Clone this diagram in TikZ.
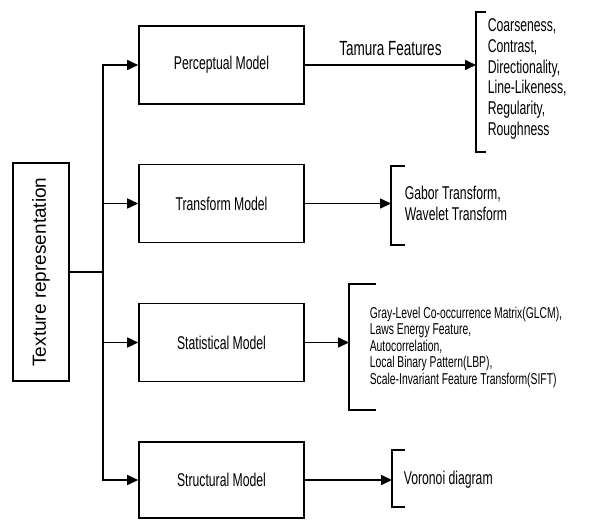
\documentclass[tikz,border=0pt]{standalone}
\usepackage{fontspec}
\setmainfont{Liberation Sans}
\newfontfamily\narrowfont{Liberation Sans}[FakeStretch=0.66]
\usetikzlibrary{arrows.meta}

\begin{document}
\begin{tikzpicture}[x=1pt,y=-1pt,line width=1.6pt,
    model/.style={draw, minimum width=165pt, minimum height=78pt,
        font=\narrowfont\fontsize{18.5}{21}\selectfont},
    featlist/.style={anchor=west, align=left, inner sep=0pt,
        font=\narrowfont\fontsize{18.5}{20.7}\selectfont},
    arr/.style={-{Triangle[length=11pt,width=10pt]}}]
    \useasboundingbox (0,0) rectangle (604,519);

    % root and the four models
    \node[draw, rotate=90, minimum width=218pt, minimum height=56pt,
        font=\fontsize{19}{22}\selectfont] (texrep) at (41,272) {Texture representation};
    \node[model] (perc)  at (221.5,65)    {Perceptual Model};
    \node[model] (trans) at (221.5,203.5) {Transform Model};
    \node[model] (stat)  at (221.5,342.5) {Statistical Model};
    \node[model, minimum height=76pt] (struc) at (221.5,480) {Structural Model};

    \coordinate (jn) at (103,272);
    \draw (texrep.south) -- (jn);
    \foreach \m in {perc,trans,stat,struc} {
        \draw[arr] (jn) |- (\m.west);
    }

    % brackets
    \coordinate (brA) at (476,12);
    \coordinate (brB) at (391,166);
    \coordinate (brC) at (349,284);
    \coordinate (brD) at (392,450);
    \foreach \bx/\bt/\bb/\bw in {476/12/152/10, 391/166/245/14, 349/284/410/27, 392/450/507/13} {
        \draw (\bx+\bw,\bt) -- (\bx,\bt) -- (\bx,\bb) -- (\bx+\bw,\bb);
    }

    \draw[arr] (perc.east) -- node[above=5pt, font=\narrowfont\fontsize{20.5}{23}\selectfont] (tamura) {Tamura Features} (perc.east -| brA);
    \draw[arr] (trans.east) -- (trans.east -| brB);
    \draw[arr] (stat.east)  -- (stat.east -| brC);
    \draw[arr] (struc.east) -- (struc.east -| brD);

    % feature lists
    \node[featlist] (percfeat) at (487,79) {Coarseness,\\Contrast,\\Directionality,\\Line-Likeness,\\Regularity,\\Roughness};
    \node[featlist] (transfeat) at (404,203.5) {Gabor Transform,\\Wavelet Transform};
    \node[featlist, font=\narrowfont\fontsize{15.7}{16.5}\selectfont] (statfeat) at (369,347)
        {Gray-Level Co-occurrence Matrix(GLCM),\\Laws Energy Feature,\\Autocorrelation,\\Local Binary Pattern(LBP),\\Scale-Invariant Feature Transform(SIFT)};
    \node[featlist] (strucfeat) at (403,480) {Voronoi diagram};
\end{tikzpicture}
\end{document}
